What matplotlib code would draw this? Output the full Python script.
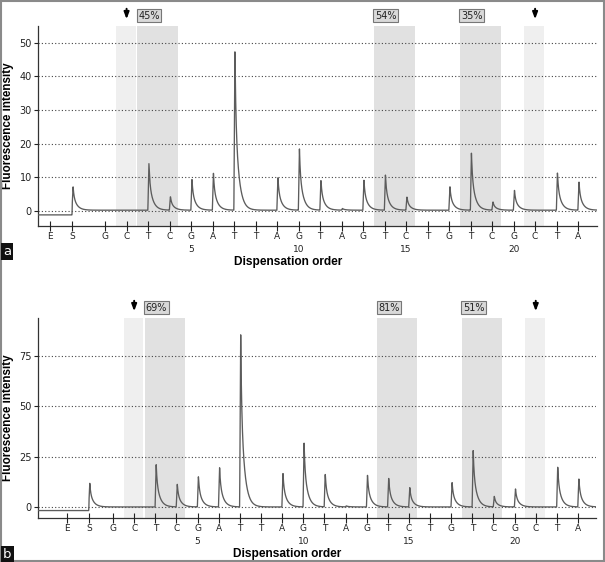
import numpy as np
import matplotlib
matplotlib.use("Agg")
from matplotlib import pyplot as plt
from matplotlib.patches import Rectangle

# dispensation order (E, S then 23 nucleotides)
letters = ['E', 'S', 'G', 'C', 'T', 'C', 'G', 'A', 'T', 'T', 'A', 'G', 'T',
           'A', 'G', 'T', 'C', 'T', 'G', 'T', 'C', 'G', 'C', 'T', 'A']
numbered = [5, 10, 15, 20]

# peak heights, one per dispensation
peaks_a = [0, 6.0, 0, 0, 14.0, 4.1, 9.3, 11.0, 48.0, 0, 9.8, 18.2, 9.0, 0.5,
           9.0, 10.5, 4.0, 0, 7.0, 17.2, 2.5, 6.0, 0, 11.3, 8.6]
peaks_b = [0, 10.0, 0, 0, 21.7, 11.3, 15.3, 20.0, 86.0, 0, 17.0, 31.7, 16.7, 0.5,
           15.8, 14.7, 9.7, 0, 12.5, 28.3, 5.3, 9.2, 0, 20.3, 14.2]
baseline_a = (-1.2, 0.2)   # before / after the substrate step
baseline_b = (-1.8, 0.0)

# shaded CpG sites (dispensation numbers) and methylation %
dark_sites = [(3, 4), (14, 15), (18, 19)]
light_sites = [2, 21]
pct_a = ['45%', '54%', '35%']
pct_b = ['69%', '81%', '51%']


def trace(x, pos, heights, base):
    y = np.where(x < pos[1], base[0], base[1]).astype(float)
    for p, h in zip(pos, heights):
        if h == 0:
            continue
        if p == pos[1]:
            h = h - base[0]
        d = x - (p + 0.04)
        dd = np.clip(d, 0, None)
        rise = np.clip(1 + d / 0.05, 0, 1) * (d < 0)
        decay = (0.35 * np.exp(-dd / 0.04) + 0.65 * np.exp(-dd / 0.17)) * (d >= 0)
        y = y + h * (rise + decay)
    return y


def panel(ax, pos, heights, base, pcts, xlim, ylim, yticks):
    ax.set_xlim(*xlim)
    ax.set_ylim(*ylim)
    for s in light_sites:
        ax.axvspan(s - 0.5, s + 0.42, color='#efefef', lw=0, zorder=0)
    for (s0, s1), txt in zip(dark_sites, pcts):
        ax.axvspan(s0 - 0.5, s1 + 0.4, color='#e1e1e1', lw=0, zorder=0)
        ax.text(s0 - 0.45, 1.052, txt, transform=ax.get_xaxis_transform(),
                fontsize=7, ha='left', va='center', color='#222',
                bbox=dict(boxstyle='square,pad=0.15', fc='#d9d9d9', ec='#777', lw=0.8))
    for s in light_sites:
        ax.annotate('', xy=(s, 1.02), xytext=(s, 1.1),
                    xycoords=ax.get_xaxis_transform(),
                    arrowprops=dict(arrowstyle='-|>,head_length=0.4,head_width=0.15',
                                    color='black', lw=1.4), annotation_clip=False)

    x = np.linspace(xlim[0], xlim[1], 5000)
    ax.plot(x, trace(x, pos, heights, base), color='#5c5c5c', lw=0.95, zorder=3)

    labels = []
    for i, l in enumerate(letters):
        n = i - 1
        labels.append(f"{l}\n{n}" if n in numbered else l)
    ax.set_xticks(pos)
    ax.set_xticklabels(labels, fontsize=6.5, linespacing=1.55, color='#222')
    ax.set_yticks(yticks)
    ax.tick_params(axis='y', labelsize=7, length=3, width=0.8, colors='#222', pad=1.5)
    ax.tick_params(axis='x', direction='inout', length=7, width=0.8, pad=1, colors='#222')
    ax.yaxis.grid(True, linestyle=(0, (1, 2)), color='#444', lw=0.8)
    ax.set_axisbelow(False)
    for s in ['top', 'right']:
        ax.spines[s].set_visible(False)
    for s in ['left', 'bottom']:
        ax.spines[s].set_color('#333')
        ax.spines[s].set_linewidth(0.9)
    ax.set_xlabel('Dispensation order', fontsize=8.6, fontweight='bold',
                  family='Liberation Sans')
    ax.xaxis.set_label_coords(0.447, -0.15)
    ax.set_ylabel('Fluorescence intensity', fontsize=8.4, fontweight='bold',
                  family='Liberation Sans', va='center')
    ax.yaxis.set_label_coords(-0.053, 0.5)


fig = plt.figure(figsize=(6.05, 5.62), dpi=100)

pos_a = [-1.56, -0.53] + list(range(1, 24))
ax1 = fig.add_axes([0.0628, 0.5979, 0.924, 0.3559])
panel(ax1, pos_a, peaks_a, baseline_a, pct_a, (-2.12, 23.88), (-4.5, 55),
      [0, 10, 20, 30, 40, 50])

pos_b = [-1.18, -0.14] + list(range(1, 24))
ax2 = fig.add_axes([0.0628, 0.0783, 0.9223, 0.3559])
panel(ax2, pos_b, peaks_b, baseline_b, pct_b, (-2.55, 23.85), (-5.5, 94),
      [0, 25, 50, 75])

# panel tags
fig.text(0.005, 0.552, 'a', color='white', fontsize=9.5, ha='left', va='center',
         bbox=dict(boxstyle='square,pad=0.15', fc='#111', ec='none'))
fig.text(0.005, 0.014, 'b', color='white', fontsize=9.5, ha='left', va='center',
         bbox=dict(boxstyle='square,pad=0.15', fc='#111', ec='none'))

fig.patches.append(Rectangle((0.001, 0.001), 0.997, 0.997, transform=fig.transFigure,
                             fill=False, ec='#8a8a8a', lw=1.5))

fig.savefig('out.png', dpi=100)
